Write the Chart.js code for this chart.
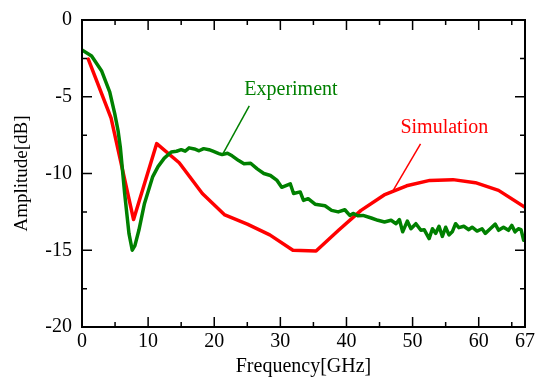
<!DOCTYPE html>
<html>
<head>
<meta charset="utf-8">
<script src="https://cdn.jsdelivr.net/npm/chart.js@4.4.0/dist/chart.umd.min.js"></script>
<style>
  html, body { margin: 0; padding: 0; background: #fff; }
  #chart { display: block; }
</style>
</head>
<body>
<canvas id="chart" width="540" height="377"></canvas>
<script>
// Measured transmission (green)
const expFreq = [0, 1.45, 2.95, 4.2, 4.95, 5.45, 5.8, 6.45, 7.1, 7.6, 8.0, 8.6, 9.45, 10.7, 11.5, 12.45,
  13.5, 14.3, 15.0, 15.6, 16.2, 17.0, 17.7, 18.4, 19.2, 19.8, 20.7, 21.2, 22.0, 22.7, 23.7, 24.5,
  25.5, 26.5, 27.5, 28.5, 29.5, 30.2, 31.5, 32.0, 33.0, 33.5, 34.2, 35.25, 36.0, 36.75, 37.75, 38.75,
  39.75, 40.5, 41.0, 41.7, 42.5, 43.75, 44.75, 45.75, 46.75, 47.5, 48.0, 48.5, 49.2, 49.75,
  50.5, 51.25, 51.75, 52.5, 53.0, 53.5, 54.0, 54.5, 55.0, 55.5, 56.0, 56.5, 57.0, 57.75,
  58.5, 59.0, 59.75, 60.5, 61.0, 61.75, 62.5, 63.0, 63.75, 64.5, 65.0, 65.5, 66.0, 66.4, 66.8, 67.0];
const expAmp = [-1.95, -2.35, -3.3, -4.7, -6.1, -7.2, -8.3, -11.3, -13.9, -15.0, -14.7, -13.7, -11.95, -10.2, -9.55, -9.0,
  -8.6, -8.55, -8.45, -8.55, -8.33, -8.4, -8.52, -8.38, -8.45, -8.55, -8.7, -8.77, -8.68, -8.85, -9.16, -9.37,
  -9.33, -9.7, -10.0, -10.13, -10.45, -10.9, -10.67, -11.3, -11.2, -11.75, -11.64, -12.0, -12.05, -12.1, -12.4, -12.5,
  -12.36, -12.73, -12.6, -12.75, -12.73, -12.9, -13.05, -13.16, -13.05, -13.27, -13.0, -13.8, -13.1, -13.6,
  -13.27, -13.7, -13.66, -14.24, -13.6, -13.9, -13.44, -14.1, -13.5, -14.0, -13.8, -13.27, -13.53, -13.44,
  -13.66, -13.5, -13.75, -13.6, -13.9, -13.6, -13.3, -13.7, -13.5, -13.7, -13.38, -13.8, -13.6, -13.66, -14.35, -14.2];

// Simulated transmission (red)
const simFreq = [0.95, 4.4, 7.8, 11.3, 14.7, 18.2, 21.6, 25.0, 28.4, 31.9, 35.4, 38.8, 42.2, 45.7,
  49.1, 52.6, 56.1, 59.5, 63.0, 67.0];
const simAmp = [-2.55, -6.4, -13.0, -8.05, -9.3, -11.3, -12.7, -13.3, -14.0, -15.0, -15.05, -13.7, -12.4, -11.4,
  -10.8, -10.45, -10.4, -10.6, -11.1, -12.2];

const xTickValues = [0, 10, 20, 30, 40, 50, 60, 67];
const xTickLabels = ['0', '10', '20', '30', '40', '50', '60', '67'];
const xMinorTicks = [5, 15, 25, 35, 45, 55, 65];
const yTickValues = [-20, -15, -10, -5, 0];
const yTickLabels = ['-20', '-15', '-10', '-5', '0'];
const yMinorTicks = [-17.5, -12.5, -7.5, -2.5];

const notes = [
  { text: 'Experiment', color: '#008000', at: [31.6, -4.55], from: [25.3, -5.6], to: [21.2, -8.8] },
  { text: 'Simulation', color: '#ff0000', at: [54.8, -7.0], from: [51.2, -8.07], to: [47.0, -11.15] }
];

const serif = '"Liberation Serif", "Times New Roman", serif';

function toPoints(xs, ys) {
  return xs.map((x, i) => ({ x: x, y: ys[i] }));
}

// frame, inward ticks on all four sides, and the two callouts
const framePlugin = {
  id: 'frameTicks',
  afterDatasetsDraw(chart) {
    const { ctx, chartArea: a, scales: { x, y } } = chart;
    ctx.save();
    ctx.strokeStyle = '#000';
    ctx.lineWidth = 1.5;
    ctx.beginPath();
    const xTick = (v, len) => {
      const px = x.getPixelForValue(v);
      ctx.moveTo(px, a.bottom); ctx.lineTo(px, a.bottom - len);
      ctx.moveTo(px, a.top); ctx.lineTo(px, a.top + len);
    };
    const yTick = (v, len) => {
      const py = y.getPixelForValue(v);
      ctx.moveTo(a.left, py); ctx.lineTo(a.left + len, py);
      ctx.moveTo(a.right, py); ctx.lineTo(a.right - len, py);
    };
    xTickValues.forEach(v => xTick(v, 10));
    xMinorTicks.forEach(v => xTick(v, 5));
    yTickValues.forEach(v => yTick(v, 10));
    yMinorTicks.forEach(v => yTick(v, 5));
    ctx.stroke();

    ctx.lineWidth = 2;
    ctx.strokeRect(a.left, a.top, a.right - a.left, a.bottom - a.top);

    // callouts
    notes.forEach(n => {
      ctx.strokeStyle = n.color;
      ctx.lineWidth = 1.5;
      ctx.beginPath();
      ctx.moveTo(x.getPixelForValue(n.from[0]), y.getPixelForValue(n.from[1]));
      ctx.lineTo(x.getPixelForValue(n.to[0]), y.getPixelForValue(n.to[1]));
      ctx.stroke();
      ctx.fillStyle = n.color;
      ctx.font = '20px ' + serif;
      ctx.textAlign = 'center';
      ctx.textBaseline = 'middle';
      ctx.fillText(n.text, x.getPixelForValue(n.at[0]), y.getPixelForValue(n.at[1]));
    });
    ctx.restore();
  }
};

const ctx = document.getElementById('chart').getContext('2d');

const chart = new Chart(ctx, {
  type: 'line',
  data: {
    datasets: [
      {
        label: 'Experiment',
        data: toPoints(expFreq, expAmp),
        borderColor: '#008000',
        borderWidth: 3.5,
        borderJoinStyle: 'round',
        borderCapStyle: 'round',
        pointRadius: 0,
        tension: 0,
        fill: false
      },
      {
        label: 'Simulation',
        data: toPoints(simFreq, simAmp),
        borderColor: '#ff0000',
        borderWidth: 3.5,
        borderJoinStyle: 'round',
        borderCapStyle: 'round',
        pointRadius: 0,
        tension: 0,
        fill: false
      }
    ]
  },
  options: {
    responsive: false,
    animation: false,
    layout: { padding: { top: 19, right: 12, bottom: 0, left: 0 } },
    plugins: {
      legend: { display: false },
      tooltip: { enabled: false }
    },
    scales: {
      x: {
        type: 'linear',
        min: 0,
        max: 67,
        grid: { display: false, drawTicks: false },
        border: { display: false },
        afterBuildTicks: scale => {
          scale.ticks = xTickValues.map(v => ({ value: v }));
        },
        afterFit: scale => { scale.height = 50; },
        ticks: {
          color: '#000',
          padding: 5,
          maxRotation: 0,
          autoSkip: false,
          font: { family: serif, size: 20, lineHeight: 1 },
          callback: (v) => xTickLabels[xTickValues.indexOf(v)]
        },
        title: {
          display: true,
          text: 'Frequency[GHz]',
          color: '#000',
          padding: 0,
          font: { family: serif, size: 20, lineHeight: 1 }
        }
      },
      y: {
        min: -20,
        max: 0,
        grid: { display: false, drawTicks: false },
        border: { display: false },
        afterBuildTicks: scale => {
          scale.ticks = yTickValues.map(v => ({ value: v }));
        },
        afterFit: scale => { scale.width = 82; },
        ticks: {
          color: '#000',
          padding: 10,
          autoSkip: false,
          font: { family: serif, size: 20, lineHeight: 1 },
          callback: (v) => yTickLabels[yTickValues.indexOf(v)]
        },
        title: {
          display: true,
          text: 'Amplitude[dB]',
          color: '#000',
          padding: { top: 13, bottom: 0 },
          font: { family: serif, size: 19, lineHeight: 1 }
        }
      }
    }
  },
  plugins: [framePlugin]
});
</script>
</body>
</html>
